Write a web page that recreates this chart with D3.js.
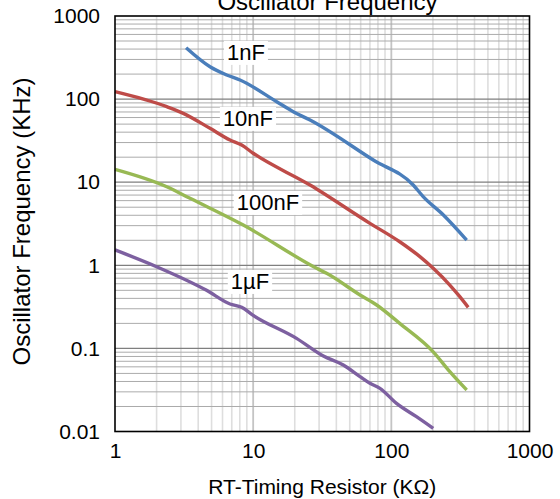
<!DOCTYPE html>
<html>
<head>
<meta charset="utf-8">
<script src="https://cdn.jsdelivr.net/npm/d3@7"></script>
<style>
  html, body { margin: 0; padding: 0; background: #fff; }
  svg { display: block; font-family: "Liberation Sans", Arial, sans-serif; }
</style>
</head>
<body>
<svg id="chart" width="560" height="499"></svg>
<script>
// ---- data ----
const seriesNames = ["1nF", "10nF", "100nF", "1µF"];
const r1nF = [3.27, 4.87, 6.43, 8.03, 14.8, 19.5, 25.8, 74, 144, 170, 238, 351];
const f1nF = [415, 245, 195, 170, 93, 70.5, 56, 18.5, 9.25, 6.7, 4.03, 2.01];
const r10nF = [1, 2.37, 3.12, 4.87, 6.8, 8.26, 10, 25.8, 70, 115, 161, 201, 265, 313, 360];
const f10nF = [122.7, 81, 67.4, 44.5, 32.2, 28, 22.3, 9.25, 3.2, 1.92, 1.27, 0.92, 0.578, 0.419, 0.312];
const r100nF = [1, 2.37, 3.49, 8.48, 28.8, 34, 59.3, 78.3, 115, 201, 265, 351];
const f100nF = [14.3, 8.83, 6.4, 3.05, 0.92, 0.80, 0.44, 0.333, 0.20, 0.091, 0.0525, 0.0316];
const r1uF = [1, 2.0, 4.6, 6.8, 8.26, 10, 20.6, 32.2, 44.9, 59.3, 70, 82.7, 109, 152, 201];
const f1uF = [1.53, 0.962, 0.50, 0.342, 0.312, 0.25, 0.132, 0.081, 0.063, 0.0457, 0.038, 0.0331, 0.0218, 0.01507, 0.0109];
const xTickLabels = ["1", "10", "100", "1000"];
const yTickLabels = ["0.01", "0.1", "1", "10", "100", "1000"];
const xTickValues = [1, 10, 100, 1000];
const yTickValues = [0.01, 0.1, 1, 10, 100, 1000];
// label anchor positions in data space (R, F)
const labelR = [8.87, 9.17, 12.8, 9.48];
const labelF = [369, 59.3, 5.78, 0.647];

const colors = ["#4A7EBB", "#BE4B48", "#98B954", "#7D60A0"];

// ---- layout ----
const margin = { left: 115, top: 16, right: 30.5, bottom: 67.5 };
const W = 560, H = 499;
const iw = W - margin.left - margin.right;
const ih = H - margin.top - margin.bottom;

const svg = d3.select("#chart");
const g = svg.append("g").attr("transform", `translate(${margin.left},${margin.top})`);

const x = d3.scaleLog().domain([1, 1000]).range([0, iw]);
const y = d3.scaleLog().domain([0.01, 1000]).range([ih, 0]);

// minor/major grid values
const minorVals = (lo, hi) => {
  const out = [];
  for (let d = lo; d < hi; d *= 10) for (let k = 2; k <= 9; k++) out.push(d * k);
  return out;
};
const xMinor = minorVals(1, 1000);
const yMinor = minorVals(0.01, 1000);

g.append("g").selectAll("line").data(xMinor).join("line")
  .attr("x1", d => x(d)).attr("x2", d => x(d)).attr("y1", 0).attr("y2", ih)
  .attr("stroke", "#dedede").attr("stroke-width", 1.6);
g.append("g").selectAll("line").data(xTickValues.slice(1, -1)).join("line")
  .attr("x1", d => x(d)).attr("x2", d => x(d)).attr("y1", 0).attr("y2", ih)
  .attr("stroke", "#c4c4c4").attr("stroke-width", 1.8);
g.append("g").selectAll("line").data(yMinor).join("line")
  .attr("x1", 0).attr("x2", iw).attr("y1", d => y(d)).attr("y2", d => y(d))
  .attr("stroke", "#ababab").attr("stroke-width", 1);
g.append("g").selectAll("line").data(yTickValues.slice(1, -1)).join("line")
  .attr("x1", 0).attr("x2", iw).attr("y1", d => y(d)).attr("y2", d => y(d))
  .attr("stroke", "#7f7f7f").attr("stroke-width", 1.2);

// series
const rs = [r1nF, r10nF, r100nF, r1uF];
const fs = [f1nF, f10nF, f100nF, f1uF];
const line = d3.line().x(d => x(d[0])).y(d => y(d[1])).curve(d3.curveMonotoneX);
rs.forEach((r, i) => {
  const pts = r.map((v, j) => [v, fs[i][j]]);
  g.append("path").datum(pts).attr("d", line)
    .attr("fill", "none").attr("stroke", colors[i]).attr("stroke-width", 3.4)
    .attr("stroke-linejoin", "round").attr("stroke-linecap", "butt");
});

// series labels with white background
seriesNames.forEach((name, i) => {
  const lg = g.append("g").attr("transform", `translate(${x(labelR[i])},${y(labelF[i])})`);
  const t = lg.append("text").text(name).attr("text-anchor", "middle")
    .attr("dy", "0.36em").attr("font-size", 22).attr("fill", "#000");
  const bb = t.node().getBBox();
  lg.insert("rect", "text").attr("x", bb.x - 3).attr("y", bb.y + 1)
    .attr("width", bb.width + 6).attr("height", bb.height - 1).attr("fill", "#fff");
});

// frame
g.append("rect").attr("width", iw).attr("height", ih).attr("fill", "none")
  .attr("stroke", "#000").attr("stroke-width", 1.6);

// axes
const xAxis = d3.axisBottom(x).tickValues(xTickValues)
  .tickFormat((d, i) => xTickLabels[i]).tickSize(0).tickPadding(12);
const xa = g.append("g").attr("transform", `translate(0,${ih})`).call(xAxis);
xa.select(".domain").remove();
xa.selectAll("text").attr("font-size", 21).attr("fill", "#000")
  .attr("font-family", "Liberation Sans, Arial, sans-serif");

const yAxis = d3.axisLeft(y).tickValues(yTickValues)
  .tickFormat((d, i) => yTickLabels[i]).tickSize(0).tickPadding(15);
const ya = g.append("g").call(yAxis);
ya.select(".domain").remove();
ya.selectAll("text").attr("font-size", 21).attr("fill", "#000")
  .attr("font-family", "Liberation Sans, Arial, sans-serif");

// titles
svg.append("text").attr("x", 327.5).attr("y", 10).attr("text-anchor", "middle")
  .attr("font-size", 24).attr("fill", "#000").text("Oscillator Frequency");
svg.append("text").attr("x", margin.left + iw / 2).attr("y", 494).attr("text-anchor", "middle")
  .attr("font-size", 21).attr("fill", "#000").text("RT-Timing Resistor (KΩ)");
svg.append("text").attr("transform", "translate(29.5,221.5) rotate(-90)").attr("text-anchor", "middle")
  .attr("font-size", 24).attr("fill", "#000").text("Oscillator Frequency (KHz)");
</script>
</body>
</html>
